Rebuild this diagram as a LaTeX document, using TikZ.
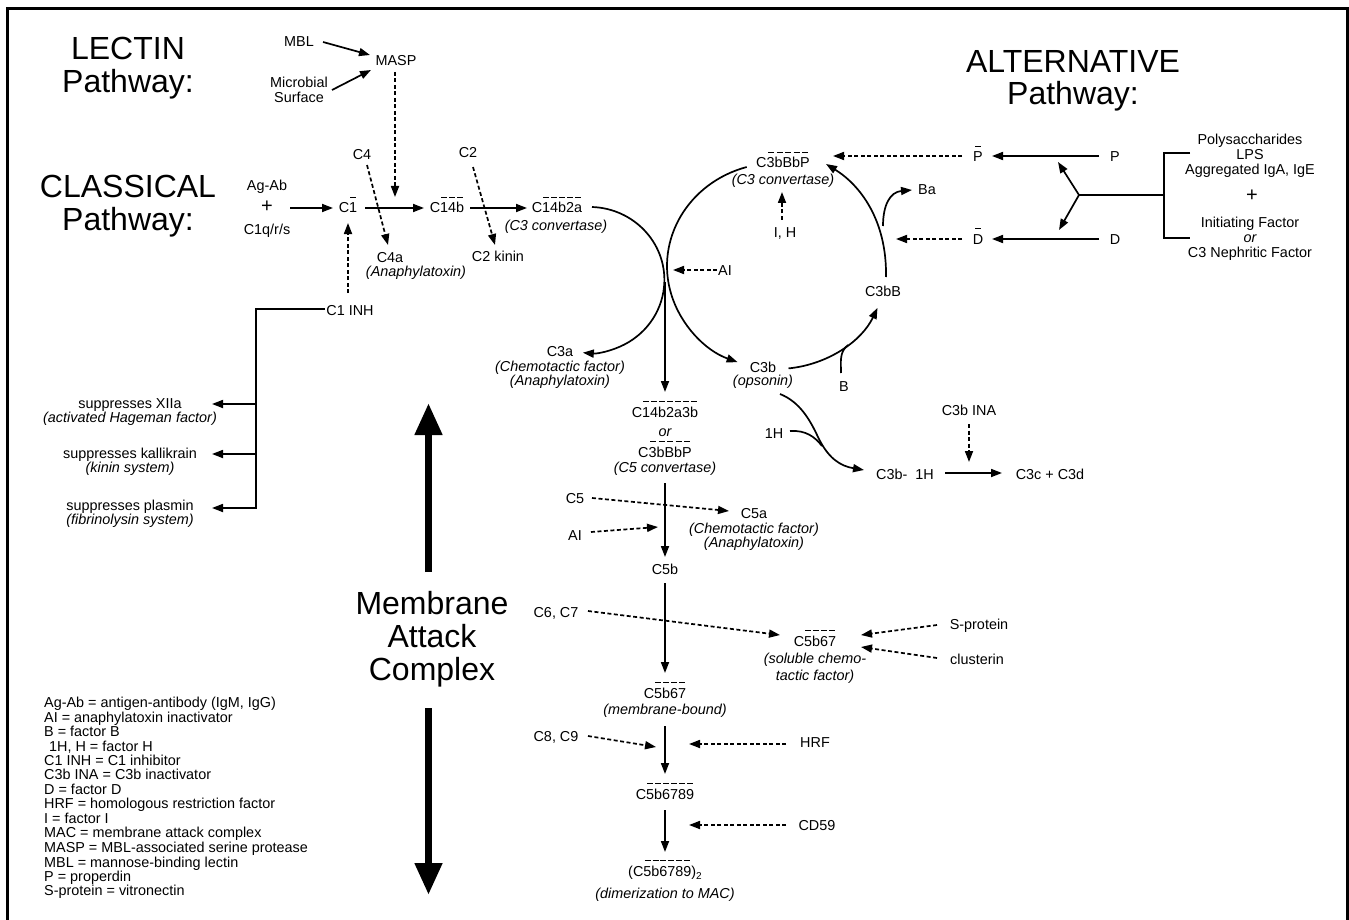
\documentclass[tikz,border=0pt]{standalone}
\usepackage{fontspec}
\setmainfont{Liberation Sans}
\usetikzlibrary{arrows.meta}
\newcommand\fs{\fontsize{14.4}{14.5}\selectfont}
\newcommand\fb{\fontsize{32}{33}\selectfont}
\newcommand\fp{\fontsize{20}{20}\selectfont}
\newsavebox\ovlbox
\newcommand\ovl[1]{\sbox\ovlbox{#1}\vbox{\offinterlineskip\hbox to\wd\ovlbox{\xleaders\hbox to 7.5pt{\hss\vrule width 6pt height 1pt\hss}\hfill}\kern4.6pt\copy\ovlbox}}
\begin{document}
\begin{tikzpicture}[x=1pt,y=1pt,
 t/.style={font=\fs, inner sep=0pt, anchor=base},
 ti/.style={font=\fs\itshape, inner sep=0pt, anchor=base},
 big/.style={font=\fb, inner sep=0pt, anchor=base},
 pl/.style={font=\fp, inner sep=0pt, anchor=center},
 lg/.style={font=\fs, inner sep=0pt, anchor=base west},
 ln/.style={line width=1.7pt},
 ar/.style={line width=1.7pt, -{Triangle[length=11pt,width=8pt]}},
 da/.style={ar, dash pattern=on 4pt off 2.5pt},
 bigar/.style={line width=7.5pt, -{Triangle[length=32pt,width=26pt]}}]
\useasboundingbox (0,0) rectangle (1349,-920);
\fill[white] (0,0) rectangle (1349,-920);
\draw[line width=3pt] (7,-930) -- (7,-8.5) -- (1347.5,-8.5) -- (1347.5,-930);

% ---------- titles ----------
\node[big] (lec1) at (128,-60) {LECTIN};
\node[big] (lec2) at (128,-93) {Pathway:};
\node[big] (cla1) at (128,-197) {CLASSICAL};
\node[big] (cla2) at (128,-230) {Pathway:};
\node[big] (alt1) at (1073,-73) {ALTERNATIVE};
\node[big] (alt2) at (1073,-105) {Pathway:};
\node[big] (mac1) at (432,-614) {Membrane};
\node[big] (mac2) at (432,-647) {Attack};
\node[big] (mac3) at (432,-680) {Complex};

% ---------- lectin ----------
\node[t] (mbl) at (299,-47) {MBL};
\node[t] (masp) at (396,-66) {MASP};
\node[t] (mic1) at (299,-88) {Microbial};
\node[t] (mic2) at (299,-103) {Surface};
\coordinate (mblE) at (323,-42); \coordinate (maspW1) at (370,-55);
\coordinate (micE) at (332,-90); \coordinate (maspW2) at (371,-70);
\coordinate (maspS) at (395,-72); \coordinate (maspT) at (395,-197);
\draw[ar] (mblE) -- (maspW1);
\draw[ar] (micE) -- (maspW2);
\draw[da] (maspS) -- (maspT);

% ---------- classical ----------
\node[t] (agab) at (267,-191) {Ag-Ab};
\node[pl] (plus) at (267,-207) {+};
\node[t] (c1qrs) at (267,-234) {C1q/r/s};
\node[t] (c1) at (348,-213) {C\ovl{1}};
\node[t] (c14b) at (447,-213) {C\ovl{14b}};
\node[t] (c14b2a) at (557,-213) {C\ovl{14b2a}};
\node[ti] (c3conv1) at (556,-230) {(C3 convertase)};
\node[t] (c4) at (362,-160) {C4};
\node[t] (c4a) at (390,-262) {C4a};
\node[ti] (c4a2) at (416,-276) {(Anaphylatoxin)};
\node[t] (c2) at (468,-158) {C2};
\node[t] (c2k) at (498,-261) {C2 kinin};
\node[t] (inh) at (350,-315) {C1 INH};
\coordinate (plusE) at (290,-208); \coordinate (c1W) at (333,-208);
\coordinate (c1E) at (365,-208); \coordinate (c14bW) at (424,-208);
\coordinate (c14bE) at (470,-208); \coordinate (c14b2aW) at (527,-208);
\coordinate (c4S) at (367,-165); \coordinate (c4aN) at (388,-245);
\coordinate (c2S) at (473,-167); \coordinate (c2kN) at (495,-245);
\coordinate (inhN) at (348,-293); \coordinate (c1S) at (348,-223);
\draw[ar] (plusE) -- (c1W);
\draw[ar] (c1E) -- (c14bW);
\draw[ar] (c14bE) -- (c14b2aW);
\draw[da] (c4S) -- (c4aN);
\draw[da] (c2S) -- (c2kN);
\draw[da] (inhN) -- (c1S);

% C1 INH branches
\node[t] (s1) at (130,-408) {suppresses XIIa};
\node[ti] (s1b) at (130,-422) {(activated Hageman factor)};
\node[t] (s2) at (130,-458) {suppresses kallikrain};
\node[ti] (s2b) at (130,-472) {(kinin system)};
\node[t] (s3) at (130,-510) {suppresses plasmin};
\node[ti] (s3b) at (130,-524) {(fibrinolysin system)};
\coordinate (inhW) at (325,-309); \coordinate (br0) at (256,-309);
\coordinate (br1) at (256,-404); \coordinate (br2) at (256,-454); \coordinate (br3) at (256,-508);
\coordinate (s1E) at (212,-404); \coordinate (s2E) at (212,-454); \coordinate (s3E) at (212,-508);
\draw[ar] (inhW) -- (br0) -- (br3) -- (s3E);
\draw[ar] (br1) -- (s1E);
\draw[ar] (br2) -- (s2E);

% ---------- C3 region ----------
\node[t] (c3a) at (560,-356) {C3a};
\node[ti] (c3a2) at (560,-371) {(Chemotactic factor)};
\node[ti] (c3a3) at (560,-385) {(Anaphylatoxin)};
\node[t] (c3b) at (763,-372) {C3b};
\node[ti] (c3b2) at (763,-385) {(opsonin)};
\node[t] (c3bbbp) at (783,-168) {C\ovl{3bBbP}};
\node[ti] (c3conv2) at (783,-185) {(C3 convertase)};
\node[t] (ih) at (785,-237) {I, H};
\node[t] (ai) at (725,-275) {AI};
\node[t] (c3bB) at (883,-296) {C3bB};
\node[t] (ba) at (927,-195) {Ba};
\node[t] (bb) at (844,-391) {B};

\coordinate (lcs) at (592,-207);
\draw[ar] (lcs) arc[start angle=88, end angle=-95, x radius=75, y radius=73];
\coordinate (rs1) at (746.7,-167);
\draw[ar] (rs1) arc[start angle=106, end angle=249, x radius=110, y radius=103];
\coordinate (rs2) at (788.5,-368.4);
\draw[ar] (rs2) arc[start angle=-84, end angle=-24, x radius=110, y radius=103];
\coordinate (c3bBtop) at (886,-277); \coordinate (c3bbbpE) at (826,-164);
\draw[ar] (c3bBtop) .. controls (887,-220) and (860,-185) .. (c3bbbpE);
\coordinate (bS) at (841,-373); \coordinate (bM) at (848,-345);
\draw[ln] (bS) to[out=90,in=218] (bM);
\coordinate (baS) at (883,-226); \coordinate (baW) at (912,-190);
\draw[ar] (baS) .. controls (883,-205) and (890,-192) .. (baW);
\coordinate (ihN) at (782,-220); \coordinate (ihT) at (782,-192);
\draw[da] (ihN) -- (ihT);
\coordinate (aiW) at (717,-270); \coordinate (aiT) at (673,-270);
\draw[da] (aiW) -- (aiT);
\coordinate (vx1) at (665,-282); \coordinate (vx2) at (665,-392);
\draw[ar] (vx1) -- (vx2);

% ---------- alternative inputs ----------
\node[t] (pb) at (978,-162) {\ovl{P}};
\node[t] (p) at (1115,-162) {P};
\node[t] (db) at (978,-244) {\ovl{D}};
\node[t] (d) at (1115,-244) {D};
\coordinate (pW) at (1099,-156); \coordinate (pbE) at (992,-156);
\coordinate (pbW) at (962,-156); \coordinate (pT) at (833,-156);
\coordinate (dW) at (1099,-239); \coordinate (dbE) at (992,-239);
\coordinate (dbW) at (962,-239); \coordinate (dT) at (896,-239);
\draw[ar] (pW) -- (pbE);
\draw[da] (pbW) -- (pT);
\draw[ar] (dW) -- (dbE);
\draw[da] (dbW) -- (dT);
\coordinate (fork) at (1079,-195); \coordinate (brk) at (1164,-195);
\coordinate (fkP) at (1058,-162); \coordinate (fkD) at (1059,-230);
\draw[ln] (brk) -- (fork);
\draw[ar] (fork) -- (fkP);
\draw[ar] (fork) -- (fkD);
\coordinate (bt) at (1190,-153); \coordinate (btc) at (1164,-153);
\coordinate (bbo) at (1190,-238); \coordinate (bbc) at (1164,-238);
\draw[ln] (bt) -- (btc) -- (bbc) -- (bbo);
\node[t] (r1) at (1250,-145) {Polysaccharides};
\node[t] (r2) at (1250,-160) {LPS};
\node[t] (r3) at (1250,-175) {Aggregated IgA, IgE};
\node[pl] (r4) at (1252,-196) {+};
\node[t] (r5) at (1250,-228) {Initiating Factor};
\node[ti] (r6) at (1250,-242) {or};
\node[t] (r7) at (1250,-257) {C3 Nephritic Factor};

% ---------- C3b inactivation ----------
\node[t] (h1) at (774,-438) {1H};
\node[t] (ina) at (969,-415) {C3b INA};
\node[t] (c3bh) at (905,-479) {C3b-~~1H};
\node[t] (c3cd) at (1050,-479) {C3c + C3d};
\coordinate (opS) at (780,-394); \coordinate (mid) at (818,-437); \coordinate (hT) at (864,-470);
\coordinate (h1E) at (790,-431); \coordinate (mrg) at (822,-446);
\draw[ar] (opS) .. controls (800,-402) and (810,-420) .. (mid) .. controls (828,-458) and (840,-466) .. (hT);
\draw[ln] (h1E) .. controls (806,-430) and (815,-437) .. (mrg);
\coordinate (c3hE) at (945,-473); \coordinate (c3cW) at (1002,-473);
\coordinate (inaS) at (969,-424); \coordinate (inaT) at (969,-462);
\draw[ar] (c3hE) -- (c3cW);
\draw[da] (inaS) -- (inaT);

% ---------- C5 convertase & MAC column ----------
\node[t] (k1) at (665,-417) {C\ovl{14b2a3b}};
\node[ti] (k2) at (665,-436) {or};
\node[t] (k3) at (665,-457) {C\ovl{3bBbP}};
\node[ti] (k4) at (665,-472) {(C5 convertase)};
\node[t] (c5) at (575,-503) {C5};
\node[t] (c5a) at (754,-518) {C5a};
\node[ti] (c5a2) at (754,-533) {(Chemotactic factor)};
\node[ti] (c5a3) at (754,-547) {(Anaphylatoxin)};
\node[t] (ai2) at (575,-540) {AI};
\node[t] (c5b) at (665,-574) {C5b};
\node[t] (c67) at (556,-617) {C6, C7};
\node[t] (c5b67s) at (815,-646) {C\ovl{5b67}};
\node[ti] (c5b67s2) at (815,-663) {(soluble chemo-};
\node[ti] (c5b67s3) at (815,-680) {tactic factor)};
\node[t] (sp) at (979,-629) {S-protein};
\node[t] (cl) at (977,-664) {clusterin};
\node[t] (c5b67m) at (665,-698) {C\ovl{5b67}};
\node[ti] (c5b67m2) at (665,-714) {(membrane-bound)};
\node[t] (c89) at (556,-741) {C8, C9};
\node[t] (hrf) at (815,-747) {HRF};
\node[t] (c5b6789) at (665,-799) {C\ovl{5b6789}};
\node[t] (cd59) at (817,-830) {CD59};
\node[t] (dim) at (665,-876) {(C\ovl{5b6789})\raisebox{-3.5pt}{\fontsize{10}{10}\selectfont 2}};
\node[ti] (dim2) at (665,-898) {(dimerization to MAC)};

\coordinate (v1a) at (665,-483); \coordinate (v1b) at (665,-557);
\coordinate (c5E) at (592,-498); \coordinate (c5aW) at (729,-511);
\coordinate (ai2E) at (591,-532); \coordinate (ai2T) at (658,-527);
\coordinate (v2a) at (665,-583); \coordinate (v2b) at (665,-673);
\coordinate (c67E) at (588,-611); \coordinate (c67T) at (780,-635);
\coordinate (spW) at (937,-625); \coordinate (spT) at (861,-635);
\coordinate (clW) at (937,-658); \coordinate (clT) at (861,-647);
\coordinate (v3a) at (665,-726); \coordinate (v3b) at (665,-774);
\coordinate (c89E) at (588,-736); \coordinate (c89T) at (656,-747);
\coordinate (hrfW) at (786,-744); \coordinate (hrfT) at (689,-744);
\coordinate (v4a) at (665,-810); \coordinate (v4b) at (665,-852);
\coordinate (cdW) at (786,-825); \coordinate (cdT) at (689,-825);
\draw[ar] (v1a) -- (v1b);
\draw[da] (c5E) -- (c5aW);
\draw[da] (ai2E) -- (ai2T);
\draw[ar] (v2a) -- (v2b);
\draw[da] (c67E) -- (c67T);
\draw[da] (spW) -- (spT);
\draw[da] (clW) -- (clT);
\draw[ar] (v3a) -- (v3b);
\draw[da] (c89E) -- (c89T);
\draw[da] (hrfW) -- (hrfT);
\draw[ar] (v4a) -- (v4b);
\draw[da] (cdW) -- (cdT);

% ---------- big arrows ----------
\coordinate (mu1) at (428.5,-572); \coordinate (mu2) at (428.5,-403);
\coordinate (md1) at (428.5,-708); \coordinate (md2) at (428.5,-895);
\draw[bigar] (mu1) -- (mu2);
\draw[bigar] (md1) -- (md2);

% ---------- legend ----------
\node[lg] (lg1) at (44,-707) {Ag-Ab = antigen-antibody (IgM, IgG)};
\node[lg] (lg2) at (44,-722) {AI = anaphylatoxin inactivator};
\node[lg] (lg3) at (44,-736) {B = factor B};
\node[lg] (lg4) at (49,-751) {1H, H = factor H};
\node[lg] (lg5) at (44,-765) {C1 INH = C1 inhibitor};
\node[lg] (lg6) at (44,-779) {C3b INA = C3b inactivator};
\node[lg] (lg7) at (44,-794) {D = factor D};
\node[lg] (lg8) at (44,-808) {HRF = homologous restriction factor};
\node[lg] (lg9) at (44,-823) {I = factor I};
\node[lg] (lg10) at (44,-837) {MAC = membrane attack complex};
\node[lg] (lg11) at (44,-852) {MASP = MBL-associated serine protease};
\node[lg] (lg12) at (44,-867) {MBL = mannose-binding lectin};
\node[lg] (lg13) at (44,-881) {P = properdin};
\node[lg] (lg14) at (44,-895) {S-protein = vitronectin};
\end{tikzpicture}
\end{document}
